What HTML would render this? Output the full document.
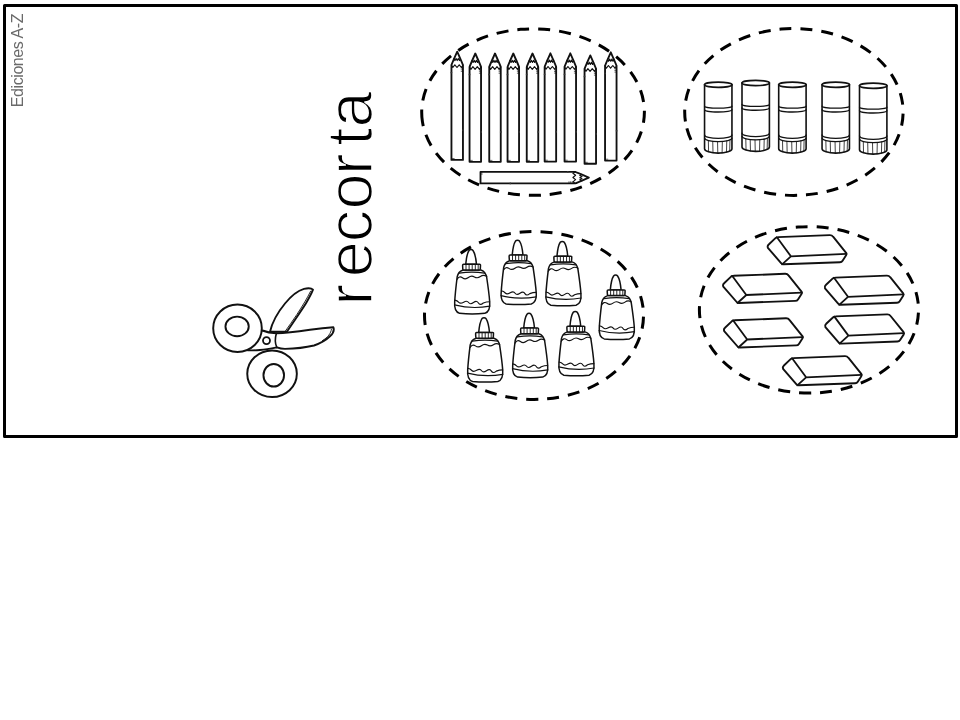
<!DOCTYPE html>
<html lang="es">
<head>
<meta charset="utf-8">
<title>recorta</title>
<style>
html,body{margin:0;padding:0;background:#fff;}
body{width:960px;height:720px;overflow:hidden;position:relative;font-family:"Liberation Sans",sans-serif;}
svg{position:absolute;left:0;top:0;display:block;filter:grayscale(1);}
.ln{fill:none;stroke:#111;stroke-linecap:round;stroke-linejoin:round;}
.wf{fill:#fff;stroke:#111;stroke-linecap:round;stroke-linejoin:round;}
.dash{fill:none;stroke:#000;stroke-width:3;stroke-dasharray:12 9;}
.big{font-family:"Liberation Sans",sans-serif;font-size:65px;fill:#000;stroke:#fff;stroke-width:1.6px;paint-order:fill stroke;}
.small{font-family:"Liberation Sans",sans-serif;font-size:16px;letter-spacing:-.42px;fill:#6a6a6a;}
</style>
</head>
<body>
<svg width="960" height="720" viewBox="0 0 960 720">
<defs>
<g id="pencil">
  <path class="wf" stroke-width="1.85" stroke-linejoin="miter" d="M-5.75,14.6 Q-5.6,13.6 0,1 Q5.6,13.6 5.75,14.6 L5.75,109.3 L-5.75,109.3 Z"/>
  <path class="ln" stroke-width="1.15" d="M-3.3,8 L-2.2,10 L-1.1,7.8 L0,10 L1.1,7.8 L2.2,10 L3.3,8"/>
  <path class="ln" stroke-width="1.15" d="M-5.8,14.4 L-4.4,16.9 L-2.4,14.2 L-0.2,16.9 L2,14.2 L4.2,16.9 L5.8,14.4"/>
  <path class="ln" stroke-width=".6" d="M4,17.6h1.6M4,19.2h1.6M4,20.8h1.6M-5,107.9h2"/>
  <circle cx="-5.8" cy="22" r=".9" fill="#333"/>
  <circle cx="5.8" cy="79.5" r=".9" fill="#333"/>
</g>
<g id="stick">
  <path class="wf" stroke-width="1.6" d="M0.8,3.1 L0.8,67.2 A13.7,4.4 0 0 0 28.2,67.2 L28.2,3.1 Z"/>
  <ellipse class="wf" stroke-width="1.7" cx="14.5" cy="3.25" rx="13.7" ry="2.6"/>
  <path class="ln" stroke-width="1.3" d="M0.8,24.7 A13.7,2 0 0 0 28.2,24.7 M0.8,28.2 A13.7,2.3 0 0 0 28.2,28.2"/>
  <path class="ln" stroke-width="1.3" d="M0.8,53.5 A13.7,3.4 0 0 0 28.2,53.5 M0.8,56.6 A13.7,3.5 0 0 0 28.2,56.6"/>
  <path class="ln" stroke-width=".8" d="M4.6,59.0 L4.85,70.2 M9.0,59.8 L9.25,71.2 M13.8,60.1 L14.05,71.6 M18.6,59.9 L18.35,71.4 M23.0,59.3 L22.75,70.7 M26.2,58.4 L25.95,69.5"/>
</g>
<g id="bottle">
  <path class="wf" stroke-width="1.5" d="M-7.9,21.3 C-9.5,21.8 -11,22.6 -11.9,23.8 C-12.9,25.2 -13.5,26.6 -13.8,28 C-14.8,36 -15.9,46 -16.3,53 C-16.8,59 -16.2,63.2 -11.4,64.6 Q1.2,65.8 13.8,64.6 C18.6,63.2 19.2,59 18.7,53 C18.2,46 16.8,36 15.6,28 C15.3,26.6 14.6,25.2 13.7,23.8 C12.9,22.6 11.5,21.8 9.9,21.3 Z"/>
  <path class="wf" stroke-width="1.5" d="M-5.3,15.6 C-4.7,9 -3.6,4 -2,1.7 C-1,0.5 1,0.5 2,1.7 C3.6,4 4.9,9 5.5,15.6 Z"/>
  <path class="wf" stroke-width="1.5" d="M-7.4,15.6 L8.6,15.6 Q9.6,15.6 9.5,16.8 L9.3,20.2 Q9.2,21.3 8.2,21.3 L-7.2,21.3 Q-8.2,21.3 -8.2,20.2 L-8.4,16.8 Q-8.4,15.6 -7.4,15.6 Z"/>
  <path class="ln" stroke-width=".9" d="M-5,15.8v5.3M-1.9,15.8v5.3M1.2,15.8v5.3M4.3,15.8v5.3M7.2,15.8v5.3"/>
  <path class="ln" stroke-width="1.2" d="M-11.7,24.3 Q1,22.3 13.5,24.3"/>
  <path class="ln" stroke-width="1.15" d="M-14,30.6 Q-11.6,26.8 -8.6,29 T-2.6,28.8 T3.4,28.2 T9.4,27.8 T15.7,27.6"/>
  <path class="ln" stroke-width="1.15" d="M-16.2,51.4 Q-13.8,51.8 -12.2,53.6 T-7.3,53.4 T-2.4,53.8 T2.5,53.8 T7.4,54.2 T12.3,54.2 Q15.4,53 18.6,53"/>
  <path class="ln" stroke-width="1.2" d="M-16.5,56.2 Q1,60.6 18.8,57.4"/>
</g>
<g id="eraser">
  <path class="wf" stroke-width="1.9" d="M0.8,13.6 Q0,11.6 1.6,10.2 L8.6,3.6 Q9.6,2.8 11,2.8 L62.5,0.8 Q64.8,0.7 66,2.4 L79,18.6 Q79.8,19.8 79,21 L75.5,26.4 Q74.6,27.8 72.8,27.9 L16.4,30 Q15,30.1 14.2,29 Z"/>
  <path class="ln" stroke-width="1.8" d="M9.8,3 L23.8,22 L79.2,19.6 M23.8,22 L15,30"/>
</g>
</defs>
<rect x="4.5" y="5.5" width="952" height="431" fill="#fff" stroke="#000" stroke-width="3" stroke-linejoin="round"/>
<path class="dash" stroke-dashoffset="0" d="M422.39,121.39 A111.35,83.3 0 0 1 643.71,102.81 A111.35,83.3 0 0 1 422.39,121.39"/>
<path class="dash" stroke-dashoffset="0" d="M685.42,121.53 A109.2,83.45 0 0 1 902.38,102.37 A109.2,83.45 0 0 1 685.42,121.53"/>
<path class="dash" stroke-dashoffset="0" d="M425.13,324.49 A109.5,83.9 0 0 1 642.87,306.51 A109.5,83.9 0 0 1 425.13,324.49"/>
<path class="dash" stroke-dashoffset="0" d="M699.94,318.12 A109.55,83.25 0 0 1 917.96,301.58 A109.55,83.25 0 0 1 699.94,318.12"/>
<use href="#pencil" x="457.2" y="50.6"/>
<use href="#pencil" x="475.3" y="52.5"/>
<use href="#pencil" x="495.0" y="52.5"/>
<use href="#pencil" x="513.3" y="52.5"/>
<use href="#pencil" x="532.5" y="52.5"/>
<use href="#pencil" x="550.4" y="52.3"/>
<use href="#pencil" x="570.3" y="52.3"/>
<use href="#pencil" x="590.3" y="54.4"/>
<use href="#pencil" x="610.8" y="51.3"/>
<use href="#pencil" transform="translate(589.8,177.65) rotate(90)"/>
<use href="#stick" x="703.75" y="81.5"/>
<use href="#stick" x="741.2" y="79.75"/>
<use href="#stick" x="777.9" y="81.5"/>
<use href="#stick" x="821.25" y="81.5"/>
<use href="#stick" x="858.7" y="82.5"/>
<use href="#bottle" x="471.0" y="248.75"/>
<use href="#bottle" x="517.5" y="239.4"/>
<use href="#bottle" x="562.25" y="240.6"/>
<use href="#bottle" x="615.6" y="274.3"/>
<use href="#bottle" x="484.0" y="316.9"/>
<use href="#bottle" x="529.0" y="312.5"/>
<use href="#bottle" x="575.25" y="310.6"/>
<use href="#eraser" x="767.1" y="234.3"/>
<use href="#eraser" x="722.5" y="273.0"/>
<use href="#eraser" x="824.2" y="274.8"/>
<use href="#eraser" x="723.4" y="317.5"/>
<use href="#eraser" x="824.6" y="313.6"/>
<use href="#eraser" x="782.3" y="355.3"/>
<g id="scissors">
  <path class="wf" stroke-width="1.9" d="M270,331.8 C272,323 278,312 285,303.5 C291,296.2 298,290.6 304,288.9 C308,287.9 311.6,288.3 313,289.7 C311.5,293.6 309,298.2 306,303.2 C301,311.2 294,321 287,331.6 Z"/>
  <path class="ln" stroke-width=".9" d="M310.6,291.2 C307.6,297.4 302.6,305.8 296.8,314.6 C292.8,320.6 288.8,326.2 285.4,331"/>
  <path class="wf" stroke-width="1.9" d="M262.4,330.5 C266,332 271,333 276.4,333.2 C285,333.1 298,331.5 310,329.7 C319,328.5 327,327.7 333.4,327.3 C334.4,330.1 333,333.5 330,336.3 C326,340.1 320,343.5 314,345.5 C305,347.7 295,348.7 285,348.9 C282,348.9 279,348.2 276.8,347.4 C272,348.3 266,349.4 260,350 C256,350.4 252,350.5 248,350.3 L240,340 Z"/>
  <path class="ln" stroke-width=".9" d="M331.4,329.4 C331,333 328,337.4 322.4,340.6"/>
  <path class="ln" stroke-width="1.6" d="M276.4,333.2 C275,338 274.8,343 276.8,347.4"/>
  <ellipse class="wf" stroke-width="1.95" cx="237.5" cy="328.25" rx="24.3" ry="23.75"/>
  <ellipse class="wf" stroke-width="1.9" cx="237.1" cy="326.45" rx="11.65" ry="9.8"/>
  <circle class="wf" stroke-width="1.8" cx="266.5" cy="340.6" r="3.5"/>
  <ellipse class="wf" stroke-width="1.95" cx="272.05" cy="373.75" rx="24.8" ry="23.3"/>
  <ellipse class="wf" stroke-width="1.9" cx="273.75" cy="375.25" rx="10.3" ry="11.3"/>
</g>
<text class="big" transform="translate(372.4,302) rotate(-90)" x="-3.6 24.8 59.7 92.5 127 156.2 174.6" y="0">recorta</text>
<text class="small" transform="translate(22.9,107.2) rotate(-90)">Ediciones A-Z</text>
</svg>
</body>
</html>
